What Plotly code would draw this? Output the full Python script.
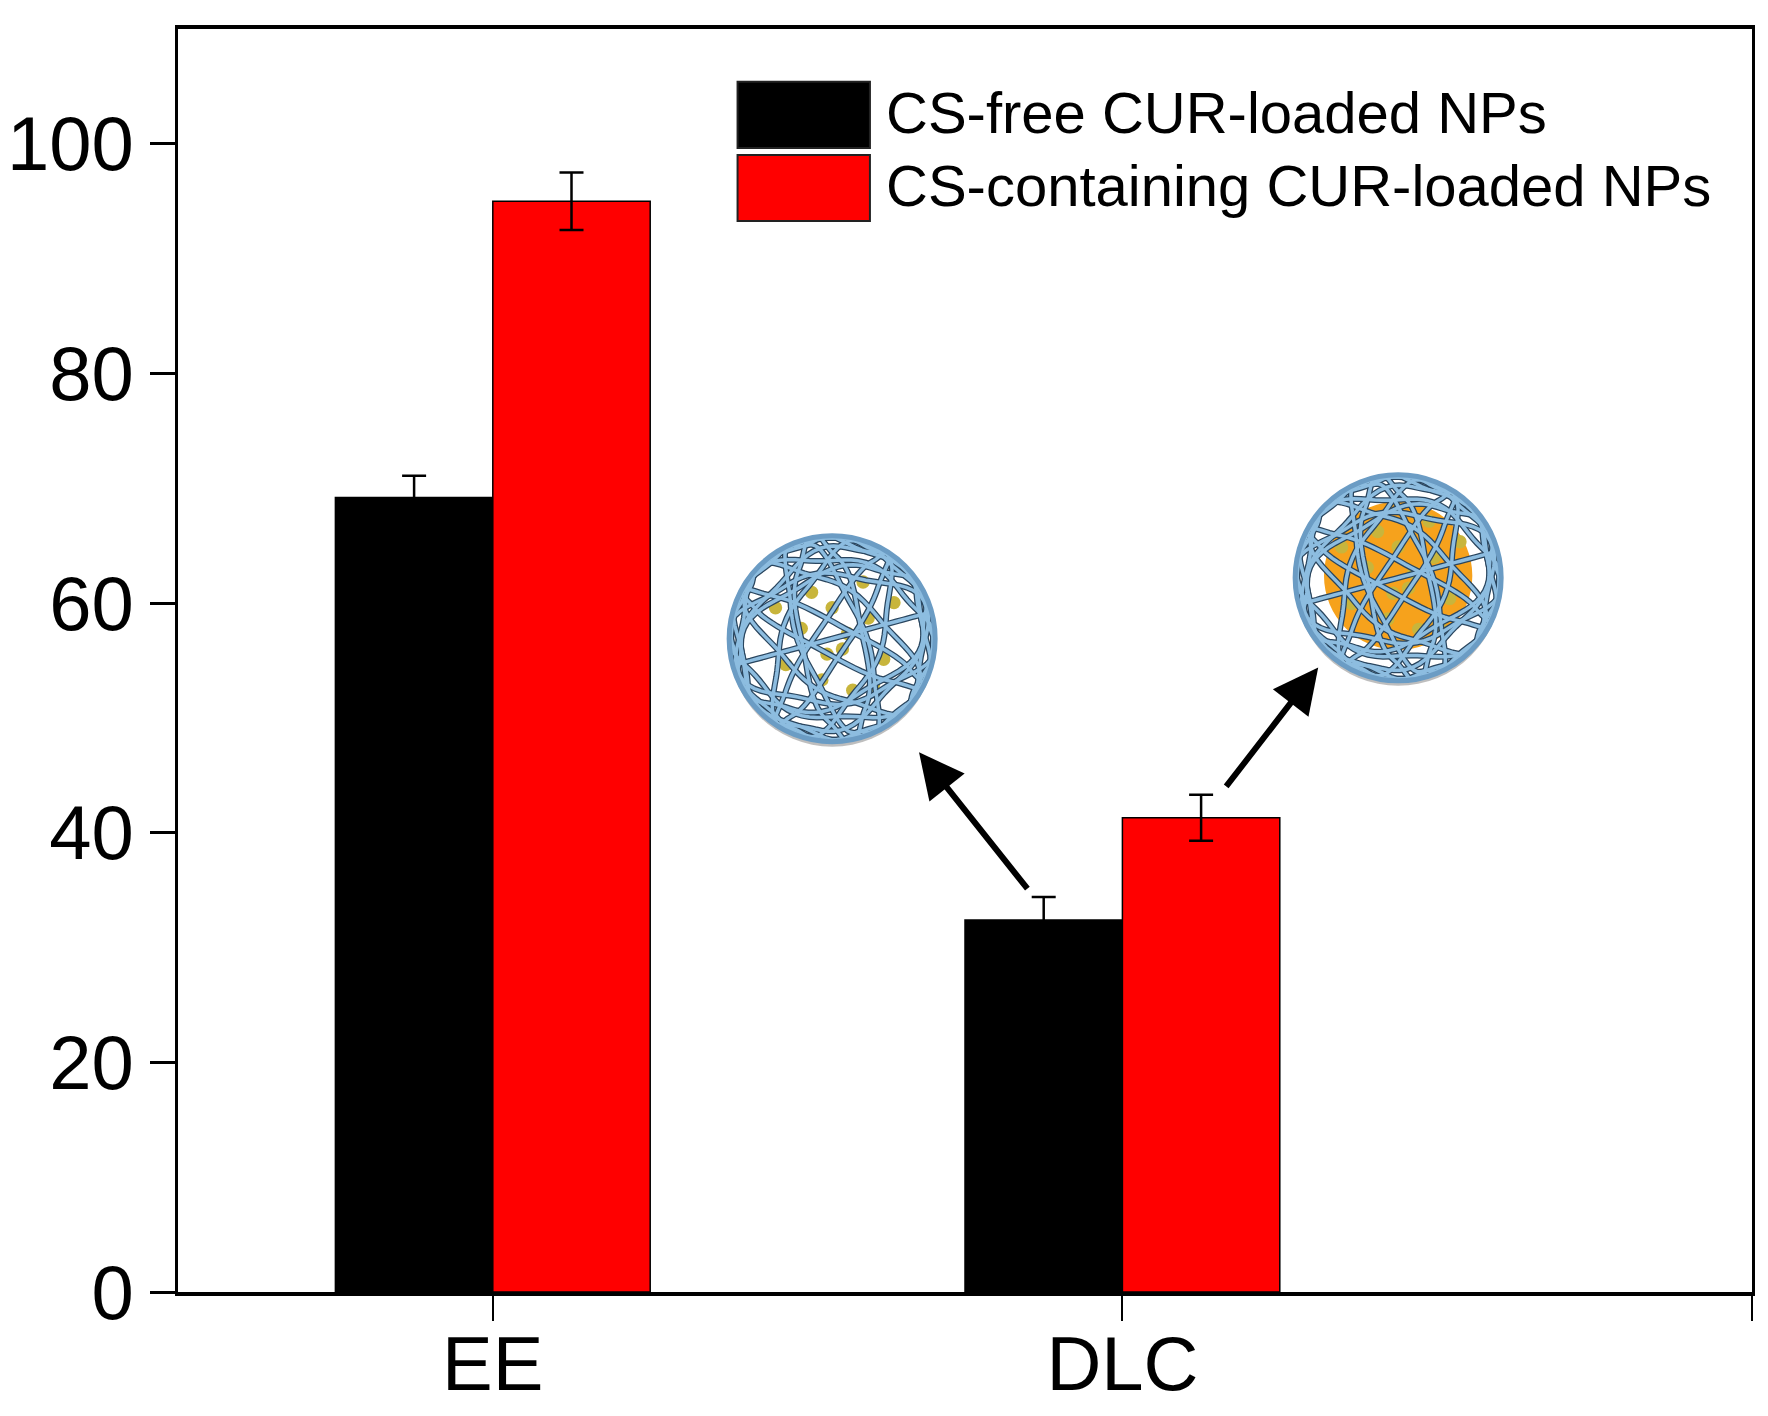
import numpy as np
import plotly.graph_objects as go

# values
categories = ["EE", "DLC"]
cat_pos = [1, 2]
series_names = ["CS-free CUR-loaded NPs", "CS-containing CUR-loaded NPs"]
cs_free = [69.2, 32.4]
cs_free_err = [1.9, 2.0]
cs_containing = [95.0, 41.3]
cs_containing_err = [2.5, 2.0]
y_ticks = [0, 20, 40, 60, 80, 100]

FONT = "Liberation Sans, Arial, sans-serif"
BAR_W = 0.25

fig = go.Figure()
fig.add_trace(go.Bar(
    x=cat_pos, y=cs_free, width=BAR_W, offset=-BAR_W, name=series_names[0],
    marker=dict(color="black", line=dict(color="black", width=1.5)),
    error_y=dict(type="data", array=cs_free_err, color="black", thickness=2.5, width=12),
))
fig.add_trace(go.Bar(
    x=cat_pos, y=cs_containing, width=BAR_W, offset=0, name=series_names[1],
    marker=dict(color="#ff0000", line=dict(color="black", width=1.5)),
    error_y=dict(type="data", array=cs_containing_err, color="black", thickness=2.5, width=12),
))

shapes = []
annotations = []

# legend drawn by hand: big boxes like the original
legend_boxes = [(0.9058, 0.9583, "black"), (0.848, 0.9002, "#ff0000")]
legend_text_y = [0.934, 0.876]
for (y0, y1, col), ty, name in zip(legend_boxes, legend_text_y, series_names):
    shapes.append(dict(type="rect", xref="paper", yref="paper", x0=0.3555, x1=0.4396,
                       y0=y0, y1=y1, fillcolor=col, line=dict(color="#222", width=2)))
    annotations.append(dict(xref="paper", yref="paper", x=0.4485, y=ty, text=name,
                            showarrow=False, xanchor="left", yanchor="middle",
                            font=dict(family=FONT, size=58, color="black")))


def sphere(cx, cy, r, core):
    # nanoparticle sketch: a wire mesh ball made of projected great circles
    out = []
    base = dict(xref="x", yref="y", xsizemode="pixel", ysizemode="pixel",
                xanchor=cx, yanchor=cy)
    out.append(dict(type="circle", x0=-r, x1=r, y0=-r - 5, y1=r - 5,
                    fillcolor="rgba(110,110,110,0.45)", line=dict(width=0), **base))
    out.append(dict(type="circle", x0=-r, x1=r, y0=-r, y1=r,
                    fillcolor="white", line=dict(width=0), **base))
    if core == "orange":
        out.append(dict(type="circle", x0=-0.72 * r, x1=0.72 * r, y0=-0.7 * r, y1=0.74 * r,
                        fillcolor="#f6a21c", line=dict(width=0), **base))
    dots = [(-0.3, 0.1), (0.1, -0.1), (0.35, 0.2), (-0.1, -0.4), (0.2, -0.5), (-0.45, -0.25),
            (0.5, -0.2), (0.0, 0.3), (-0.2, 0.45), (0.3, 0.55), (-0.55, 0.3), (0.6, 0.35),
            (0.15, 0.05), (-0.05, -0.15), (0.4, -0.45)]
    for dx, dy in dots:
        s = 0.065 * r
        out.append(dict(type="circle", x0=dx * r - s, x1=dx * r + s, y0=dy * r - s, y1=dy * r + s,
                        fillcolor="#c8b53c", line=dict(width=0), **base))
    t = np.linspace(0, 2 * np.pi, 90)
    n_circ = 13
    paths = []
    for k in range(n_circ):
        zc = 1 - 2 * (k + 0.5) / n_circ
        ph = k * 2.39996
        n = np.array([np.sqrt(1 - zc ** 2) * np.cos(ph), np.sqrt(1 - zc ** 2) * np.sin(ph), zc])
        a = np.cross(n, [0.3, 0.5, 0.81])
        a = a / np.linalg.norm(a)
        b = np.cross(n, a)
        wob = 1 + 0.05 * np.sin(6 * t + k)
        px = r * wob * (np.cos(t) * a[0] + np.sin(t) * b[0])
        py = r * wob * (np.cos(t) * a[1] + np.sin(t) * b[1])
        rr = np.hypot(px, py)
        scale = np.minimum(1, (r - 2) / np.maximum(rr, 1e-6))
        px, py = px * scale, py * scale
        paths.append("M" + "L".join(f"{x:.1f},{y:.1f}" for x, y in zip(px, py)) + "Z")
    for p in paths:
        out.append(dict(type="path", path=p, line=dict(color="#2a465f", width=6), **base))
    for p in paths:
        out.append(dict(type="path", path=p, line=dict(color="#8dbde0", width=3.5), **base))
    out.append(dict(type="circle", x0=-r, x1=r, y0=-r, y1=r,
                    line=dict(color="#6b9cc4", width=5), **base))
    return out


shapes += sphere(1.539, 56.9, 103, "dots")
shapes += sphere(2.438, 62.2, 103, "orange")

arrows = [((1.677, 47.0), (1.851, 35.0)), ((2.311, 54.4), (2.163, 43.9))]
for (hx, hy), (tx, ty) in arrows:
    annotations.append(dict(x=hx, y=hy, ax=tx, ay=ty, xref="x", yref="y", axref="x", ayref="y",
                            text="", showarrow=True, arrowhead=2, arrowsize=1.5,
                            arrowwidth=6, arrowcolor="black"))

# page body adds an 8px offset, so the figure is a little smaller than the window
fig.update_layout(
    width=1760, height=1408,
    paper_bgcolor="white", plot_bgcolor="white",
    margin=dict(l=170, r=16, t=21, b=124),
    barmode="overlay", showlegend=False,
    font=dict(family=FONT, color="black"),
    shapes=shapes, annotations=annotations,
)
fig.update_xaxes(
    range=[0.5, 3.0], tickvals=cat_pos + [3], ticktext=categories + [""], automargin=False,
    showgrid=False, zeroline=False, showline=True, linewidth=4, linecolor="black", mirror=True,
    ticks="outside", ticklen=25, tickwidth=2, tickcolor="black", ticklabelstandoff=-22,
    tickfont=dict(family=FONT, size=76, color="black"),
)
fig.update_yaxes(
    range=[0, 110], tickvals=y_ticks, automargin=False,
    showgrid=False, zeroline=False, showline=True, linewidth=3, linecolor="black", mirror=True,
    ticks="outside", ticklen=25, tickwidth=3, tickcolor="black", ticklabelstandoff=1,
    tickfont=dict(family=FONT, size=76, color="black"),
)

fig.write_html("out.html")
